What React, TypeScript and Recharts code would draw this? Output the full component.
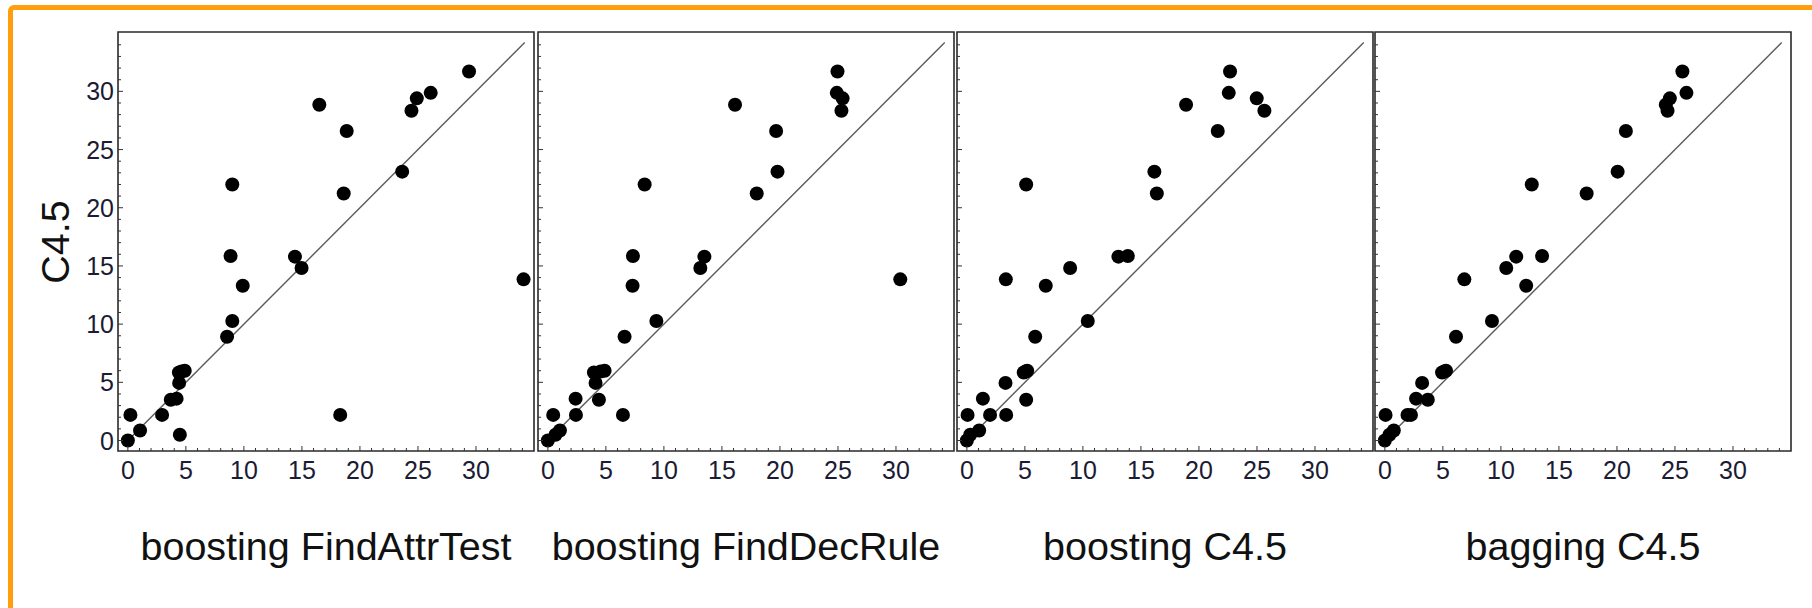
import { ReferenceArea, ReferenceLine, Scatter, ScatterChart, XAxis, YAxis } from 'recharts'

// C4.5 error (%) per dataset, shared by all four panels (sorted)
const c45 = [
  0, 0.5, 0.86, 2.2, 2.2, 2.2, 3.5, 3.6, 4.95, 5.85, 5.92, 6.0, 8.92, 10.27,
  13.3, 13.85, 14.82, 15.8, 15.85, 21.22, 22.0, 23.1, 26.6, 28.33, 28.85, 29.4, 29.87, 31.7,
]

// the compared method's error for the same datasets
const boostFindAttrTest = [
  0, 4.48, 1.05, 0.22, 2.95, 18.3, 3.7, 4.2, 4.42, 4.4, 4.62, 4.9, 8.55, 9.0,
  9.9, 34.1, 14.97, 14.4, 8.85, 18.6, 9.0, 23.64, 18.86, 24.44, 16.5, 24.9, 26.1, 29.4,
]
const boostFindDecRule = [
  0, 0.66, 1.04, 0.46, 2.42, 6.47, 4.4, 2.39, 4.11, 3.97, 4.54, 4.89, 6.61, 9.35,
  7.3, 30.37, 13.14, 13.49, 7.33, 18.0, 8.34, 19.79, 19.67, 25.3, 16.13, 25.4, 24.9, 24.96,
]
const boostC45 = [
  0, 0.29, 1.06, 0.06, 2.0, 3.39, 5.11, 1.38, 3.33, 4.9, 5.05, 5.2, 5.89, 10.42,
  6.8, 3.36, 8.9, 13.06, 13.87, 16.37, 5.11, 16.16, 21.62, 25.64, 18.89, 24.98, 22.57, 22.68,
]
const baggingC45 = [
  0, 0.4, 0.77, 0.06, 1.95, 2.25, 3.7, 2.69, 3.21, 4.93, 5.1, 5.27, 6.13, 9.23,
  12.18, 6.85, 10.46, 11.32, 13.55, 17.39, 12.66, 20.06, 20.77, 24.36, 24.21, 24.56, 25.99, 25.64,
]

const titles = ['boosting FindAttrTest', 'boosting FindDecRule', 'boosting C4.5', 'bagging C4.5']
const methods = [boostFindAttrTest, boostFindDecRule, boostC45, baggingC45]

const axisTicks = Array.from({ length: 35 }, (_, i) => i)
const diagonal = [0, 34.2]
const xDomain = [-0.85, 35]
const yDomain = [-0.9, 35.1]

const FONT = '"Liberation Sans", Arial, sans-serif'
const LABEL = '#1b1b33'
const panelLefts = [118, 538, 957, 1375]
const PW = 416
const PH = 419
const TOP = 32
const ML = 100
const YW = 40
const XH = 40

function XTick(props: any) {
  const { x, y, payload } = props
  const v = payload.value
  const major = v % 5 === 0
  return (
    <g>
      <line x1={x} x2={x} y1={y} y2={y - (major ? 5 : 3)} stroke="#333" strokeWidth={1} />
      {major && v <= 30 && (
        <text x={x} y={y + 27.5} textAnchor="middle" fontSize={25} fontFamily={FONT} fill={LABEL}>
          {v}
        </text>
      )}
    </g>
  )
}

function YTick(props: any) {
  const { x, y, payload, showLabel } = props
  const v = payload.value
  const major = v % 5 === 0
  return (
    <g>
      <line x1={x} x2={x + (major ? 5 : 3)} y1={y} y2={y} stroke="#333" strokeWidth={1} />
      {showLabel && major && v <= 30 && (
        <text x={x - 4} y={y + 9} textAnchor="end" fontSize={25} fontFamily={FONT} fill={LABEL}>
          {v}
        </text>
      )}
    </g>
  )
}

const dot = (props: any) => <circle cx={props.cx} cy={props.cy} r={7} fill="#000" />

function Panel({ index }: { index: number }) {
  const data = methods[index].map((x, i) => ({ x, y: c45[i] }))
  return (
    <div style={{ position: 'absolute', left: panelLefts[index] - ML, top: 0 }}>
      <ScatterChart
        width={ML + PW + 20}
        height={608}
        margin={{ top: TOP, left: ML - YW, right: 20, bottom: 608 - TOP - PH - XH }}
      >
        <XAxis
          type="number"
          dataKey="x"
          domain={xDomain}
          ticks={axisTicks}
          interval={0}
          allowDataOverflow
          height={XH}
          tickSize={0}
          tickMargin={0}
          axisLine={false}
          tickLine={false}
          tick={(p: any) => <XTick {...p} />}
        />
        <YAxis
          type="number"
          dataKey="y"
          domain={yDomain}
          ticks={axisTicks}
          interval={0}
          allowDataOverflow
          width={YW}
          tickSize={0}
          tickMargin={0}
          axisLine={false}
          tickLine={false}
          tick={(p: any) => <YTick {...p} showLabel={index === 0} />}
        />
        <ReferenceArea
          x1={xDomain[0]}
          x2={xDomain[1]}
          y1={yDomain[0]}
          y2={yDomain[1]}
          fill="none"
          fillOpacity={0}
          stroke="#2a2a2a"
          strokeWidth={1.6}
          ifOverflow="visible"
        />
        <ReferenceLine
          segment={[
            { x: diagonal[0], y: diagonal[0] },
            { x: diagonal[1], y: diagonal[1] },
          ]}
          stroke="#5a5a5a"
          strokeWidth={1.4}
          ifOverflow="visible"
        />
        <Scatter data={data} shape={dot} isAnimationActive={false} />
      </ScatterChart>
    </div>
  )
}

export default function App() {
  return (
    <div
      style={{
        position: 'absolute',
        left: 0,
        top: 0,
        width: 1812,
        height: 608,
        background: '#fff',
        overflow: 'hidden',
      }}
    >
      <div
        style={{
          position: 'absolute',
          left: 8,
          top: 5,
          width: 1900,
          height: 800,
          borderLeft: '5px solid #ff9f0d',
          borderTop: '5px solid #ff9f0d',
          borderTopLeftRadius: 6,
          boxSizing: 'border-box',
        }}
      />
      {methods.map((_, i) => (
        <Panel key={titles[i]} index={i} />
      ))}
      <svg
        width={1812}
        height={608}
        style={{ position: 'absolute', left: 0, top: 0, pointerEvents: 'none' }}
      >
        <text
          x={69}
          y={242}
          transform="rotate(-90 69 242)"
          textAnchor="middle"
          fontSize={39.5}
          fontFamily={FONT}
          fill="#111"
        >
          C4.5
        </text>
        {titles.map((t, i) => (
          <text
            key={t}
            x={panelLefts[i] + PW / 2}
            y={560}
            textAnchor="middle"
            fontSize={39.5}
            fontFamily={FONT}
            fill="#111"
          >
            {t}
          </text>
        ))}
      </svg>
    </div>
  )
}
